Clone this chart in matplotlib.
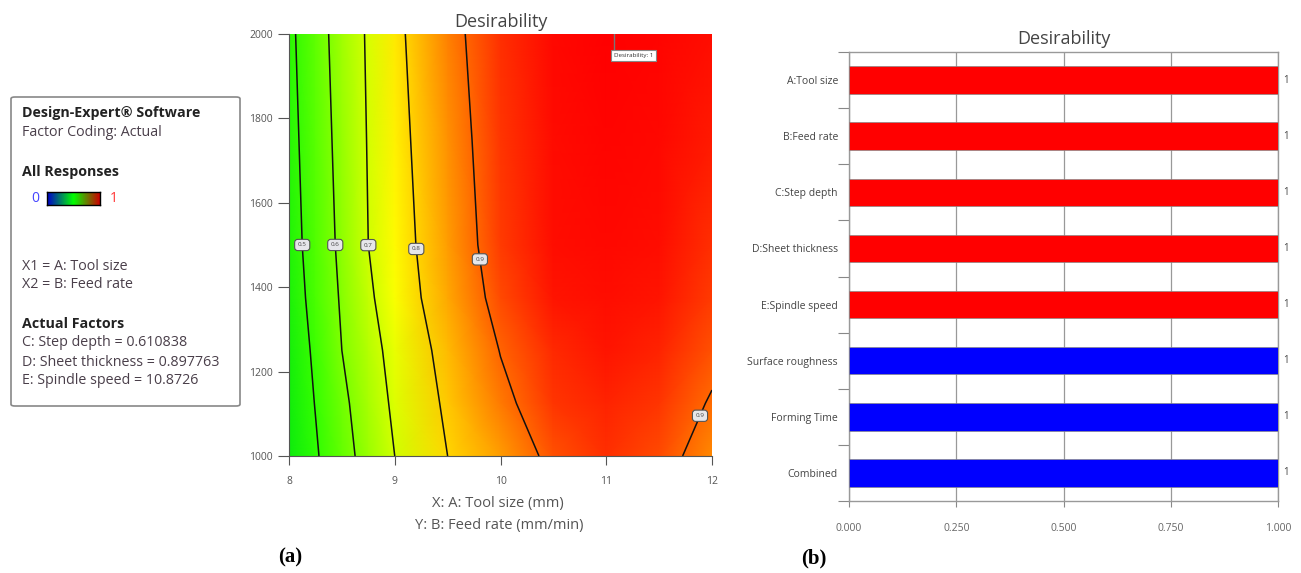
import numpy as np
import matplotlib
matplotlib.use("Agg")
import matplotlib.pyplot as plt
from matplotlib.colors import LinearSegmentedColormap
from matplotlib.patches import FancyBboxPatch

plt.rcParams['font.family'] = ['Open Sans', 'DejaVu Sans']

# ---- (a) desirability surface ----
tool_size = [8, 8.25, 8.5, 8.75, 9, 9.5, 10, 10.5, 11, 11.5, 12]
feed_rate = [1000, 1125, 1250, 1375, 1500, 1750, 2000]
desirability = [
    [0.42, 0.49, 0.565, 0.635, 0.70, 0.80, 0.86, 0.915, 0.94, 0.92, 0.875],
    [0.43, 0.503, 0.58, 0.65, 0.715, 0.815, 0.885, 0.935, 0.95, 0.935, 0.895],
    [0.44, 0.515, 0.60, 0.665, 0.73, 0.83, 0.902, 0.945, 0.96, 0.95, 0.915],
    [0.45, 0.53, 0.61, 0.685, 0.75, 0.85, 0.92, 0.96, 0.97, 0.96, 0.93],
    [0.46, 0.54, 0.62, 0.70, 0.76, 0.86, 0.93, 0.97, 0.98, 0.97, 0.94],
    [0.47, 0.55, 0.63, 0.705, 0.77, 0.87, 0.935, 0.975, 0.99, 0.98, 0.955],
    [0.48, 0.56, 0.64, 0.71, 0.78, 0.88, 0.94, 0.98, 1.00, 0.99, 0.97],
]
contour_levels = [0.5, 0.6, 0.7, 0.8, 0.9]
label_spots = [(8.12, 1500), (8.42, 1500), (8.76, 1500), (9.18, 1490),
               (9.78, 1465), (11.89, 1095)]
optimum = (11.07, 2000)
optimum_value = 1

legend_lines = [
    ("Design-Expert® Software", True),
    ("Factor Coding: Actual", False),
    ("All Responses", True),
    ("X1 = A: Tool size", False),
    ("X2 = B: Feed rate", False),
    ("Actual Factors", True),
    ("C: Step depth = 0.610838", False),
    ("D: Sheet thickness = 0.897763", False),
    ("E: Spindle speed = 10.8726", False),
]
legend_y = [113, 132, 172, 266, 285, 324, 343, 362, 381]

# ---- (b) desirability bars ----
factors = ["A:Tool size", "B:Feed rate", "C:Step depth", "D:Sheet thickness",
           "E:Spindle speed", "Surface roughness", "Forming Time", "Combined"]
factor_desirability = [1, 1, 1, 1, 1, 1, 1, 1]
bar_colors = ["#ff0000"] * 5 + ["#0000ff"] * 3

W, H = 1301, 573
fig = plt.figure(figsize=(W / 100, H / 100), dpi=100)


def fx(px):
    return px / W


def fy(py):
    return 1 - py / H


surface_cmap = LinearSegmentedColormap.from_list("de", [
    (0.00, (0.05, 0.92, 0.05)),
    (0.14, (0.2, 1.0, 0.0)),
    (0.34, (0.55, 1.0, 0.0)),
    (0.58, (1.0, 1.0, 0.0)),
    (0.76, (1.0, 0.62, 0.0)),
    (0.86, (1.0, 0.30, 0.0)),
    (0.94, (1.0, 0.06, 0.0)),
    (1.00, (1.0, 0.0, 0.0)),
])

# contour plot
ax = fig.add_axes([fx(289), fy(456), fx(712 - 289), (456 - 34) / H])
X, Y = np.meshgrid(tool_size, feed_rate)
Z = np.array(desirability)
ax.pcolormesh(X, Y, Z, shading='gouraud', cmap=surface_cmap, vmin=0.42, vmax=1.0)
cs = ax.contour(X, Y, Z, levels=contour_levels, colors='#111111', linewidths=1.1)
labels = ax.clabel(cs, fmt='%.1f', fontsize=4.5, manual=label_spots, inline=False)
for t in labels:
    t.set_rotation(0)
    t.set_color('#444444')
    t.set_bbox(dict(boxstyle='round,pad=0.5', fc='#e6e6ea', ec='#555555', lw=0.8))

ax.plot([optimum[0], optimum[0]], [optimum[1], optimum[1] - 43], color='#777777', lw=1)
ax.text(optimum[0], optimum[1] - 45, f"Desirability: {optimum_value}", fontsize=4.5,
        color='#333333', ha='left', va='top',
        bbox=dict(boxstyle='square,pad=0.5', fc='white', ec='#888888', lw=0.8))

ax.set_xlim(8, 12)
ax.set_ylim(1000, 2000)
ax.set_xticks([8, 9, 10, 11, 12])
ax.set_yticks([1000, 1200, 1400, 1600, 1800, 2000])
ax.tick_params(axis='x', labelsize=7.5, colors='#555555', length=6.5, width=0.8, pad=8)
ax.tick_params(axis='y', labelsize=7.5, colors='#555555', length=8, width=0.8, pad=3.5)
for s in ['top', 'right']:
    ax.spines[s].set_visible(False)
for s in ['left', 'bottom']:
    ax.spines[s].set_color('#555555')
ax.set_title("Desirability", fontsize=13, color='#444444', pad=5)
fig.text(fx(498), fy(504), "X: A: Tool size (mm)", fontsize=10.5, color='#555555',
         ha='center', va='center')
fig.text(fx(499), fy(525), "Y: B: Feed rate (mm/min)", fontsize=10.5, color='#555555',
         ha='center', va='center')

# legend box
fig.patches.append(FancyBboxPatch((fx(11), fy(406)), fx(240 - 11), (406 - 97) / H,
                                  boxstyle='round,pad=0,rounding_size=0.003',
                                  transform=fig.transFigure, fc='white',
                                  ec='#888888', lw=1.2, zorder=-1))
for (txt, bold), py in zip(legend_lines, legend_y):
    fig.text(fx(22), fy(py), txt, fontsize=10.3, ha='left', va='center',
             color='#222222' if bold else '#4a3f4a',
             fontweight='bold' if bold else 'normal')
fig.text(fx(35), fy(198), "0", fontsize=10, color='#4444ff', ha='center', va='center')
fig.text(fx(114), fy(198), "1", fontsize=10, color='#ff3333', ha='center', va='center')
cax = fig.add_axes([fx(47), fy(205), fx(53), 13 / H])
cax.set_zorder(5)
legend_cmap = LinearSegmentedColormap.from_list("leg", ['#0000cc', '#00ff00', '#cc0000'])
cax.imshow(np.linspace(0, 1, 100).reshape(1, -1), aspect='auto', cmap=legend_cmap)
cax.set_xticks([])
cax.set_yticks([])
for s in cax.spines.values():
    s.set_linewidth(1)

# bar chart
bx = fig.add_axes([fx(849), fy(501), fx(1278 - 849), (501 - 52) / H])
ypos = np.arange(len(factors))
bx.barh(ypos, factor_desirability, height=0.49, color=bar_colors,
        edgecolor='#888888', linewidth=0.5, zorder=3)
for yv, v in zip(ypos, factor_desirability):
    bx.text(1.012, yv, f"{v:g}", fontsize=7, color='#444444', va='center', ha='left')
bx.set_xlim(0, 1)
bx.set_ylim(len(factors) - 0.5, -0.5)
bx.set_xticks([0, 0.25, 0.5, 0.75, 1.0])
bx.set_xticklabels([f"{v:.3f}" for v in [0, 0.25, 0.5, 0.75, 1.0]])
bx.set_yticks(np.arange(len(factors) + 1) - 0.5)
bx.set_yticklabels([])
bx.set_yticks(ypos, minor=True)
bx.set_yticklabels(factors, minor=True)
bx.tick_params(axis='y', which='minor', length=0, labelsize=7.5, colors='#444444', pad=8)
bx.tick_params(axis='y', which='major', length=8, color='#888888')
bx.tick_params(axis='x', labelsize=7.5, colors='#666666', length=4, color='#888888', pad=12)
bx.grid(axis='x', color='#999999', lw=0.9, zorder=0)
for s in bx.spines.values():
    s.set_color('#999999')
    s.set_linewidth(1)
bx.set_title("Desirability", fontsize=13, color='#444444', pad=6)

fig.text(fx(290), fy(557), "(a)", fontsize=15, fontweight='bold',
         family='Liberation Serif', ha='center', va='center')
fig.text(fx(814), fy(558), "(b)", fontsize=15, fontweight='bold',
         family='Liberation Serif', ha='center', va='center')

fig.savefig("out.png", dpi=100)
